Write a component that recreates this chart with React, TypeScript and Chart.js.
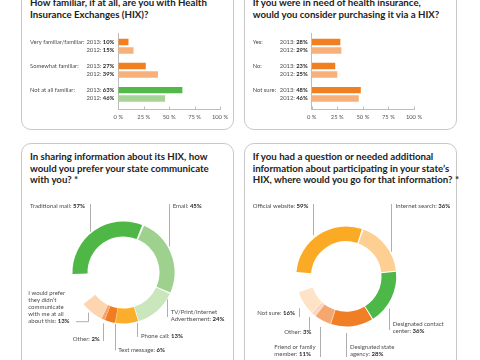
import React, { useEffect, useRef } from 'react';
import { Chart, registerables } from 'chart.js';

Chart.register(...registerables);

const FONT = 'Lato, "Open Sans", sans-serif';

// ---------- data ----------
const yearLabels = ['2013', '2012'];
const percentTicks = [0, 25, 50, 75, 100];

const familiarCategories = ['Very familiar/familiar:', 'Somewhat familiar:', 'Not at all familiar:'];
const familiar2013 = [10, 27, 63];
const familiar2012 = [15, 39, 46];

const purchaseCategories = ['Yes:', 'No:', 'Not sure:'];
const purchase2013 = [28, 23, 48];
const purchase2012 = [29, 25, 46];

const communicateCategories = [
  'Traditional mail',
  'Email',
  'TV/Print/Internet\nAdvertisement',
  'Phone call',
  'Text message',
  'Other',
  'I would prefer\nthey didn\u2019t\ncommunicate\nwith me at all\nabout this',
];
const communicateValues = [57, 45, 24, 13, 6, 2, 13];

const infoCategories = [
  'Official website',
  'Internet search',
  'Designated contact\ncenter',
  'Designated state\nagency',
  'Friend or family\nmember',
  'Other',
  'Not sure',
];
const infoValues = [59, 36, 36, 28, 11, 3, 16];

// ---------- styles ----------
const ORANGE = '#f07f22';
const ORANGE_L = '#f8b07a';
const GREEN = '#54b848';
const GREEN_L = '#a5d495';
const AXIS = '#bdbdbd';
const BAR_LABEL_SIZE = 5.8;
const DONUT_LABEL_SIZE = 6.0;

const communicateColors = ['#4fb746', '#9fd18e', '#c9e6bc', '#fbae2c', '#f07d22', '#f5a46c', '#fdd5b1'];
const infoColors = ['#fbaa26', '#fdcf93', '#4db748', '#f07e24', '#f6a66f', '#fcd6c0', '#fee3c6'];

type Part = [string, boolean];

function drawRich(ctx: CanvasRenderingContext2D, parts: Part[], x: number, y: number, align: 'left' | 'right', size: number) {
  ctx.save();
  ctx.textBaseline = 'middle';
  ctx.textAlign = 'left';
  const fonts = parts.map(([, b]) => `${b ? 'bold ' : ''}${size}px ${FONT}`);
  let total = 0;
  parts.forEach(([t], i) => {
    ctx.font = fonts[i];
    total += ctx.measureText(t).width;
  });
  let cx = align === 'right' ? x - total : x;
  parts.forEach(([t, b], i) => {
    ctx.font = fonts[i];
    ctx.fillStyle = b ? '#2a2a2a' : '#4d4d4d';
    ctx.fillText(t, cx, y);
    cx += ctx.measureText(t).width;
  });
  ctx.restore();
}

function Panel({ left, top, width, height }: any) {
  return (
    <div
      style={{
        position: 'absolute',
        left,
        top,
        width,
        height,
        boxSizing: 'border-box',
        border: '1px solid #c9c9c9',
        borderRadius: 10,
        background: '#fff',
      }}
    />
  );
}

function Title({ left, top, text }: any) {
  return (
    <div
      style={{
        position: 'absolute',
        left,
        top,
        font: `bold 9.7px ${FONT}`,
        lineHeight: '11.7px',
        color: '#222',
        whiteSpace: 'pre',
      }}
    >
      {text}
    </div>
  );
}

function BarChart({ left, top, width, height, padding, categories, v2013, v2012, c2013, c2012, catX }: any) {
  const ref = useRef<HTMLCanvasElement>(null);
  useEffect(() => {
    const labelPlugin = {
      id: 'barLabels',
      afterDraw(chart: any) {
        const ctx = chart.ctx;
        const area = chart.chartArea;
        chart.data.datasets.forEach((ds: any, di: number) => {
          const meta = chart.getDatasetMeta(di);
          meta.data.forEach((bar: any, i: number) => {
            const val = ds.data[i].x;
            drawRich(ctx, [[yearLabels[di] + ': ', false], [val + '%', true]], area.left - 4, bar.y, 'right', BAR_LABEL_SIZE);
            if (di === 0) drawRich(ctx, [[categories[i], false]], catX - left, bar.y, 'left', BAR_LABEL_SIZE);
          });
        });
        const xs = chart.scales.x;
        ctx.save();
        ctx.strokeStyle = AXIS;
        ctx.lineWidth = 1;
        xs.ticks.forEach((_t: any, i: number) => {
          const px = Math.round(xs.getPixelForTick(i)) + 0.5;
          ctx.beginPath();
          ctx.moveTo(px, area.bottom);
          ctx.lineTo(px, area.bottom - 2.5);
          ctx.stroke();
        });
        ctx.restore();
      },
    };
    const chart = new Chart(ref.current as HTMLCanvasElement, {
      type: 'bar',
      data: {
        datasets: [
          { label: yearLabels[0], data: v2013.map((v: number, i: number) => ({ x: v, y: i })), backgroundColor: c2013, borderWidth: 0 },
          { label: yearLabels[1], data: v2012.map((v: number, i: number) => ({ x: v, y: i })), backgroundColor: c2012, borderWidth: 0 },
        ],
      },
      options: {
        indexAxis: 'y',
        responsive: false,
        animation: false,
        events: [],
        categoryPercentage: 0.7,
        barPercentage: 0.77,
        layout: { padding },
        plugins: { legend: { display: false }, tooltip: { enabled: false } },
        scales: {
          x: {
            type: 'linear',
            min: 0,
            max: 100,
            offset: false,
            afterBuildTicks: (s: any) => {
              s.ticks = percentTicks.map((v) => ({ value: v }));
            },
            afterFit: (s: any) => {
              s.height = 14;
            },
            grid: { display: false, drawTicks: false, offset: false },
            border: { display: true, color: AXIS, width: 1 },
            ticks: {
              padding: 4.5,
              color: '#555',
              font: { size: BAR_LABEL_SIZE, family: FONT },
              maxRotation: 0,
              autoSkip: false,
              callback: (v: any) => v + ' %',
            },
          },
          y: {
            type: 'linear',
            min: -0.54,
            max: 2.61,
            bounds: 'data',
            offset: false,
            reverse: true,
            afterBuildTicks: (s: any) => {
              s.ticks = categories.map((_c: string, i: number) => ({ value: i }));
            },
            afterFit: (s: any) => {
              s.width = 0;
            },
            grid: { display: false, drawTicks: false, offset: false },
            border: { display: true, color: AXIS, width: 1 },
            ticks: { display: false },
          },
        },
      } as any,
      plugins: [labelPlugin],
    });
    return () => chart.destroy();
  }, []);
  return <canvas ref={ref} width={width} height={height} style={{ position: 'absolute', left, top }} />;
}

function Donut({ left, top, width, height, padding, categories, values, colors, rotation, circumference, labels }: any) {
  const ref = useRef<HTMLCanvasElement>(null);
  useEffect(() => {
    const labelPlugin = {
      id: 'donutLabels',
      afterDraw(chart: any) {
        const ctx = chart.ctx;
        const arc = chart.getDatasetMeta(0).data[0];
        const cx = arc.x;
        const cy = arc.y;
        const R = arc.outerRadius + 1;
        labels.forEach((L: any, i: number) => {
          const lines = categories[i].split('\n');
          lines.forEach((line: string, j: number) => {
            const parts: Part[] = j === lines.length - 1 ? [[line + ': ', false], [values[i] + '%', true]] : [[line, false]];
            drawRich(ctx, parts, L.x - left, L.y - top + j * 7, 'left', DONUT_LABEL_SIZE);
          });
          const lx = Math.round(L.lx - left) + 0.5;
          const far = L.far - top;
          const dx = lx - cx;
          const sign = far > cy ? 1 : -1;
          const ringY = cy + sign * (Math.sqrt(Math.max(R * R - dx * dx, 0)) + (L.gap ?? 3));
          ctx.save();
          ctx.strokeStyle = '#9a9a9a';
          ctx.lineWidth = 0.8;
          ctx.beginPath();
          if (L.hook != null) {
            ctx.moveTo(L.hook - left, far);
            ctx.lineTo(lx, far);
          } else {
            ctx.moveTo(lx, far);
          }
          ctx.lineTo(lx, ringY);
          ctx.stroke();
          ctx.restore();
        });
      },
    };
    const chart = new Chart(ref.current as HTMLCanvasElement, {
      type: 'doughnut',
      data: {
        labels: categories,
        datasets: [{ data: values, backgroundColor: colors, borderWidth: 0, spacing: 2 }],
      },
      options: {
        responsive: false,
        animation: false,
        events: [],
        rotation,
        circumference,
        cutout: '70%',
        layout: { padding },
        plugins: { legend: { display: false }, tooltip: { enabled: false } },
      } as any,
      plugins: [labelPlugin],
    });
    return () => chart.destroy();
  }, []);
  return <canvas ref={ref} width={width} height={height} style={{ position: 'absolute', left, top }} />;
}

const communicateLabels = [
  { x: 30, y: 206, lx: 90, far: 204, gap: 2 },
  { x: 172.7, y: 206, lx: 169.3, far: 204, gap: 4 },
  { x: 170.7, y: 311.7, lx: 166.7, far: 317, gap: 1 },
  { x: 141, y: 335.7, lx: 136.7, far: 337, gap: 1.5 },
  { x: 118.3, y: 350, lx: 115, far: 350.5, gap: 1 },
  { x: 72.7, y: 339.3, lx: 102.7, far: 341, gap: 4 },
  { x: 28.3, y: 293.5, lx: 88.3, far: 321.7, gap: 3, hook: 76 },
];

const infoLabels = [
  { x: 252.7, y: 206, lx: 312.7, far: 204, gap: 3.5 },
  { x: 395.7, y: 206, lx: 390.7, far: 204, gap: 3.5 },
  { x: 392.7, y: 324, lx: 389, far: 330, gap: 7 },
  { x: 350, y: 347.3, lx: 346, far: 357, gap: 6.5 },
  { x: 274.3, y: 347.3, lx: 320, far: 357, gap: 7.5 },
  { x: 284.3, y: 332, lx: 309.3, far: 333.5, gap: 6.5 },
  { x: 257.3, y: 312.7, lx: 299.3, far: 317, gap: 14 },
];

export default function App() {
  return (
    <div style={{ position: 'fixed', left: 0, top: 0, width: 480, height: 360, overflow: 'hidden', background: '#fff' }}>
      <Panel left={21} top={-20} width={213} height={150} />
      <Panel left={244} top={-20} width={213} height={150} />
      <Panel left={21} top={143} width={213} height={240} />
      <Panel left={244} top={143} width={213} height={240} />

      <Title left={30} top={-2.85} text={'How familiar, if at all, are you with Health\nInsurance Exchanges (HIX)?'} />
      <Title left={252.7} top={-2.85} text={'If you were in need of health insurance,\nwould you consider purchasing it via a HIX?'} />
      <Title left={30} top={150.85} text={'In sharing information about its HIX, how\nwould you prefer your state communicate\nwith you? *'} />
      <Title
        left={252.7}
        top={150.85}
        text={'If you had a question or needed additional\ninformation about participating in your state\u2019s\nHIX, where would you go for that information? *'}
      />

      <BarChart
        left={21}
        top={28}
        width={212}
        height={100}
        padding={{ left: 97.3, right: 13, top: 5.3, bottom: 5 }}
        categories={familiarCategories}
        v2013={familiar2013}
        v2012={familiar2012}
        c2013={[ORANGE, ORANGE, GREEN]}
        c2012={[ORANGE_L, ORANGE_L, GREEN_L]}
        catX={30}
      />
      <BarChart
        left={244}
        top={28}
        width={212}
        height={100}
        padding={{ left: 67.7, right: 42, top: 5.3, bottom: 5 }}
        categories={purchaseCategories}
        v2013={purchase2013}
        v2012={purchase2012}
        c2013={[ORANGE, ORANGE, ORANGE]}
        c2012={[ORANGE_L, ORANGE_L, ORANGE_L]}
        catX={252.7}
      />

      <Donut
        left={21}
        top={190}
        width={212}
        height={170}
        padding={{ left: 51.5, right: 58.5, top: 31.5, bottom: 36.5 }}
        categories={communicateCategories}
        values={communicateValues}
        colors={communicateColors}
        rotation={-93}
        circumference={325}
        labels={communicateLabels}
      />
      <Donut
        left={244}
        top={190}
        width={212}
        height={170}
        padding={{ left: 52.3, right: 59.7, top: 36.5, bottom: 33.5 }}
        categories={infoCategories}
        values={infoValues}
        colors={infoColors}
        rotation={-86}
        circumference={338}
        labels={infoLabels}
      />
    </div>
  );
}
